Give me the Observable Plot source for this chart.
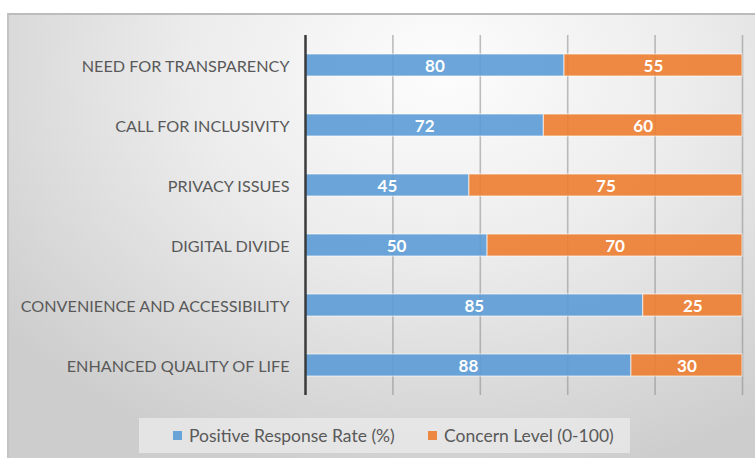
<!DOCTYPE html>
<html><head><meta charset="utf-8">
<script src="https://cdn.jsdelivr.net/npm/d3@7"></script>
<script src="https://cdn.jsdelivr.net/npm/@observablehq/plot@0.6"></script>
<style>
html,body{margin:0;padding:0;background:#fff;}
#frame{position:absolute;left:7px;top:13px;width:746px;height:443px;border-top:2px solid #bcbcbc;border-left:2px solid #c4c4c4;
 background:radial-gradient(ellipse 75% 95% at 58% 12%, #fdfdfd 0%, #ececec 45%, #cdcdcd 100%);font-family:Lato,"Open Sans",sans-serif;overflow:hidden;}
#chart{position:absolute;left:0;top:0;}
#legend{position:absolute;left:130px;top:403px;width:491px;height:35px;background:rgba(235,235,235,0.75);font-size:17.5px;color:#595959;}
.sw{position:absolute;top:13px;width:9px;height:9px;}
.lt{position:absolute;top:0;line-height:35px;white-space:nowrap;}
</style></head>
<body>
<div id="frame"><div id="chart"></div><div id="legend"></div></div>
<script>
const categories = ["NEED FOR TRANSPARENCY","CALL FOR INCLUSIVITY","PRIVACY ISSUES","DIGITAL DIVIDE","CONVENIENCE AND ACCESSIBILITY","ENHANCED QUALITY OF LIFE"];
const positive = [80, 72, 45, 50, 85, 88];
const concern = [55, 60, 75, 70, 25, 30];
const seriesNames = ["Positive Response Rate (%)", "Concern Level (0-100)"];
const seriesColors = ["#5b9bd5", "#ed7d31"];
const gridTicks = [0.2, 0.4, 0.6, 0.8, 1];

const data = [];
categories.forEach((c, i) => {
  data.push({cat: c, series: seriesNames[0], value: positive[i]});
  data.push({cat: c, series: seriesNames[1], value: concern[i]});
});

const chart = Plot.plot({
  width: 746, height: 398,
  marginLeft: 296, marginRight: 13, marginTop: 20, marginBottom: 18,
  style: {background: "transparent", fontFamily: "Lato, 'Open Sans', sans-serif"},
  x: {domain: [0, 1], axis: null},
  y: {domain: categories, paddingInner: 0.63, paddingOuter: 0.315, label: null, tickSize: 0, tickPadding: 16},
  color: {domain: seriesNames, range: seriesColors},
  marks: [
    Plot.ruleX(gridTicks, {stroke: "#8a8a8a", strokeOpacity: 0.55, strokeWidth: 1.6}),
    Plot.barX(data, Plot.stackX({x: "value", y: "cat", fill: "series", offset: "normalize", order: seriesNames, fillOpacity: 0.9, stroke: "#ffffff", strokeOpacity: 0.55, strokeWidth: 1.2, inset: 0})),
    Plot.text(data, Plot.stackX({x: "value", y: "cat", z: "series", offset: "normalize", order: seriesNames, text: d => String(d.value), fill: "white", fontWeight: "bold", fontSize: 17, dy: 1})),
    Plot.ruleX([0], {stroke: "#3a3a3a", strokeWidth: 2.5}),
    Plot.axisY({tickSize: 0, tickPadding: 16, fontSize: 16.2, color: "#595959", label: null, dy: 1})
  ]
});
document.getElementById("chart").appendChild(chart);

const legend = document.getElementById("legend");
const swX = [34, 289];
seriesNames.forEach((s, i) => {
  const sw = document.createElement("span");
  sw.className = "sw";
  sw.style.left = swX[i] + "px";
  sw.style.background = seriesColors[i];
  sw.style.opacity = 0.9;
  legend.appendChild(sw);
  const t = document.createElement("span");
  t.className = "lt";
  t.style.left = (swX[i] + 16) + "px";
  t.textContent = s;
  legend.appendChild(t);
});
</script>
</body></html>
